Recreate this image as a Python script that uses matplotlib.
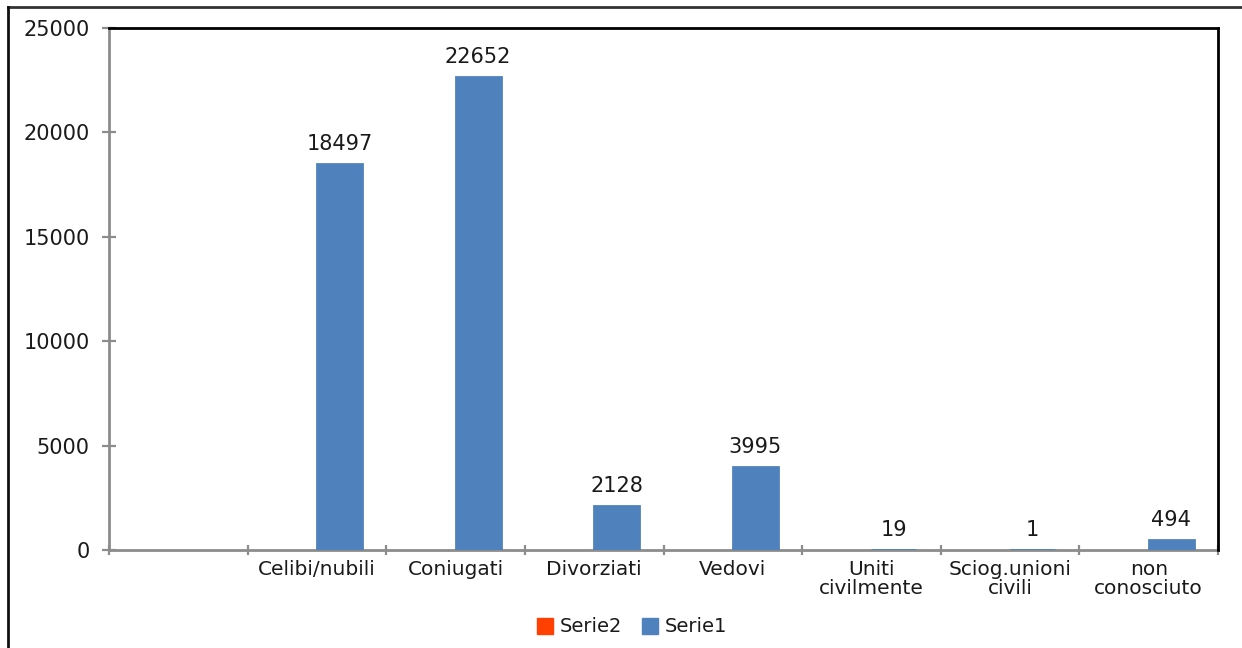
import matplotlib
matplotlib.use("Agg")
import matplotlib.pyplot as plt
from matplotlib.lines import Line2D
from matplotlib.patches import Patch
import numpy as np

# Stato civile: conteggi per categoria
categories = ["", "Celibi/nubili", "Coniugati", "Divorziati", "Vedovi",
              "Uniti\ncivilmente", "Sciog.unioni\ncivili", "non\nconosciuto"]
serie1 = [0, 18497, 22652, 2128, 3995, 19, 1, 494]
serie2 = [0, 0, 0, 0, 0, 0, 0, 0]
y_ticks = [0, 5000, 10000, 15000, 20000, 25000]

blue = "#4F81BD"
red = "#FF4000"
grey_axis = "#8C8C8C"
text_col = "#1A1A1A"

plt.rcParams["font.family"] = ["DejaVu Sans"]

fig = plt.figure(figsize=(12.42, 6.48), dpi=100)
ax = fig.add_axes([109 / 1242, 1 - 550 / 648, (1218 - 109) / 1242, (550 - 28) / 648])

x = np.arange(len(categories))
w = 0.325
ax.bar(x - w / 2, serie2, width=w, color=red, linewidth=0, label="Serie2", zorder=3)
# outline only non-empty bars so very small counts stay visible above the axis
ax.bar(x + w / 2, serie1, width=w, color=blue,
       edgecolor=[blue if v > 0 else "none" for v in serie1], linewidth=2,
       label="Serie1", zorder=3)

for xi, v in zip(x, serie1):
    if xi == 0:
        continue
    ax.annotate(str(v), (xi + w / 2, v), xytext=(0, 7), textcoords="offset points",
                ha="center", va="bottom", fontsize=15, color=text_col)

ax.set_xlim(-0.5, len(categories) - 0.5)
ax.set_ylim(0, 25000)

# y axis
ax.set_yticks(y_ticks)
ax.set_yticklabels([str(t) for t in y_ticks])
ax.tick_params(axis="y", direction="inout", length=10, width=1.6, color=grey_axis,
               pad=9, labelsize=15, labelcolor=text_col)

# x axis: tick marks on category boundaries, labels at centres
ax.set_xticks(np.arange(len(categories) + 1) - 0.5)
ax.set_xticklabels([])
ax.set_xticks(x, minor=True)
ax.set_xticklabels(categories, minor=True)
ax.tick_params(axis="x", which="major", direction="inout", length=7, width=1.6, color=grey_axis)
ax.tick_params(axis="x", which="minor", length=0, pad=7, labelsize=14.5, labelcolor=text_col)
for lbl in ax.get_xticklabels(minor=True):
    lbl.set_linespacing(1.0)

for side in ("left", "bottom"):
    ax.spines[side].set_color(grey_axis)
    ax.spines[side].set_linewidth(2)
    ax.spines[side].set_zorder(2)
for side in ("top", "right"):
    ax.spines[side].set_color("black")
    ax.spines[side].set_linewidth(2)

# legend below the plot
handles = [Patch(facecolor=red, edgecolor=red), Patch(facecolor=blue, edgecolor=blue)]
fig.legend(handles, ["Serie2", "Serie1"], loc="center", bbox_to_anchor=(632 / 1242, 1 - 627 / 648),
           ncol=2, frameon=False, fontsize=14, handlelength=0.85, handleheight=0.85,
           handletextpad=0.35, columnspacing=1.0, labelcolor=text_col)

# outer chart frame
fig.add_artist(Line2D([8 / 1242, 1.0], [1 - 7 / 648, 1 - 7 / 648], transform=fig.transFigure,
                      color="#333333", linewidth=2))
fig.add_artist(Line2D([8 / 1242, 8 / 1242], [0, 1 - 7 / 648], transform=fig.transFigure,
                      color="#111111", linewidth=2))

fig.savefig("out.png", dpi=100, facecolor="white")
